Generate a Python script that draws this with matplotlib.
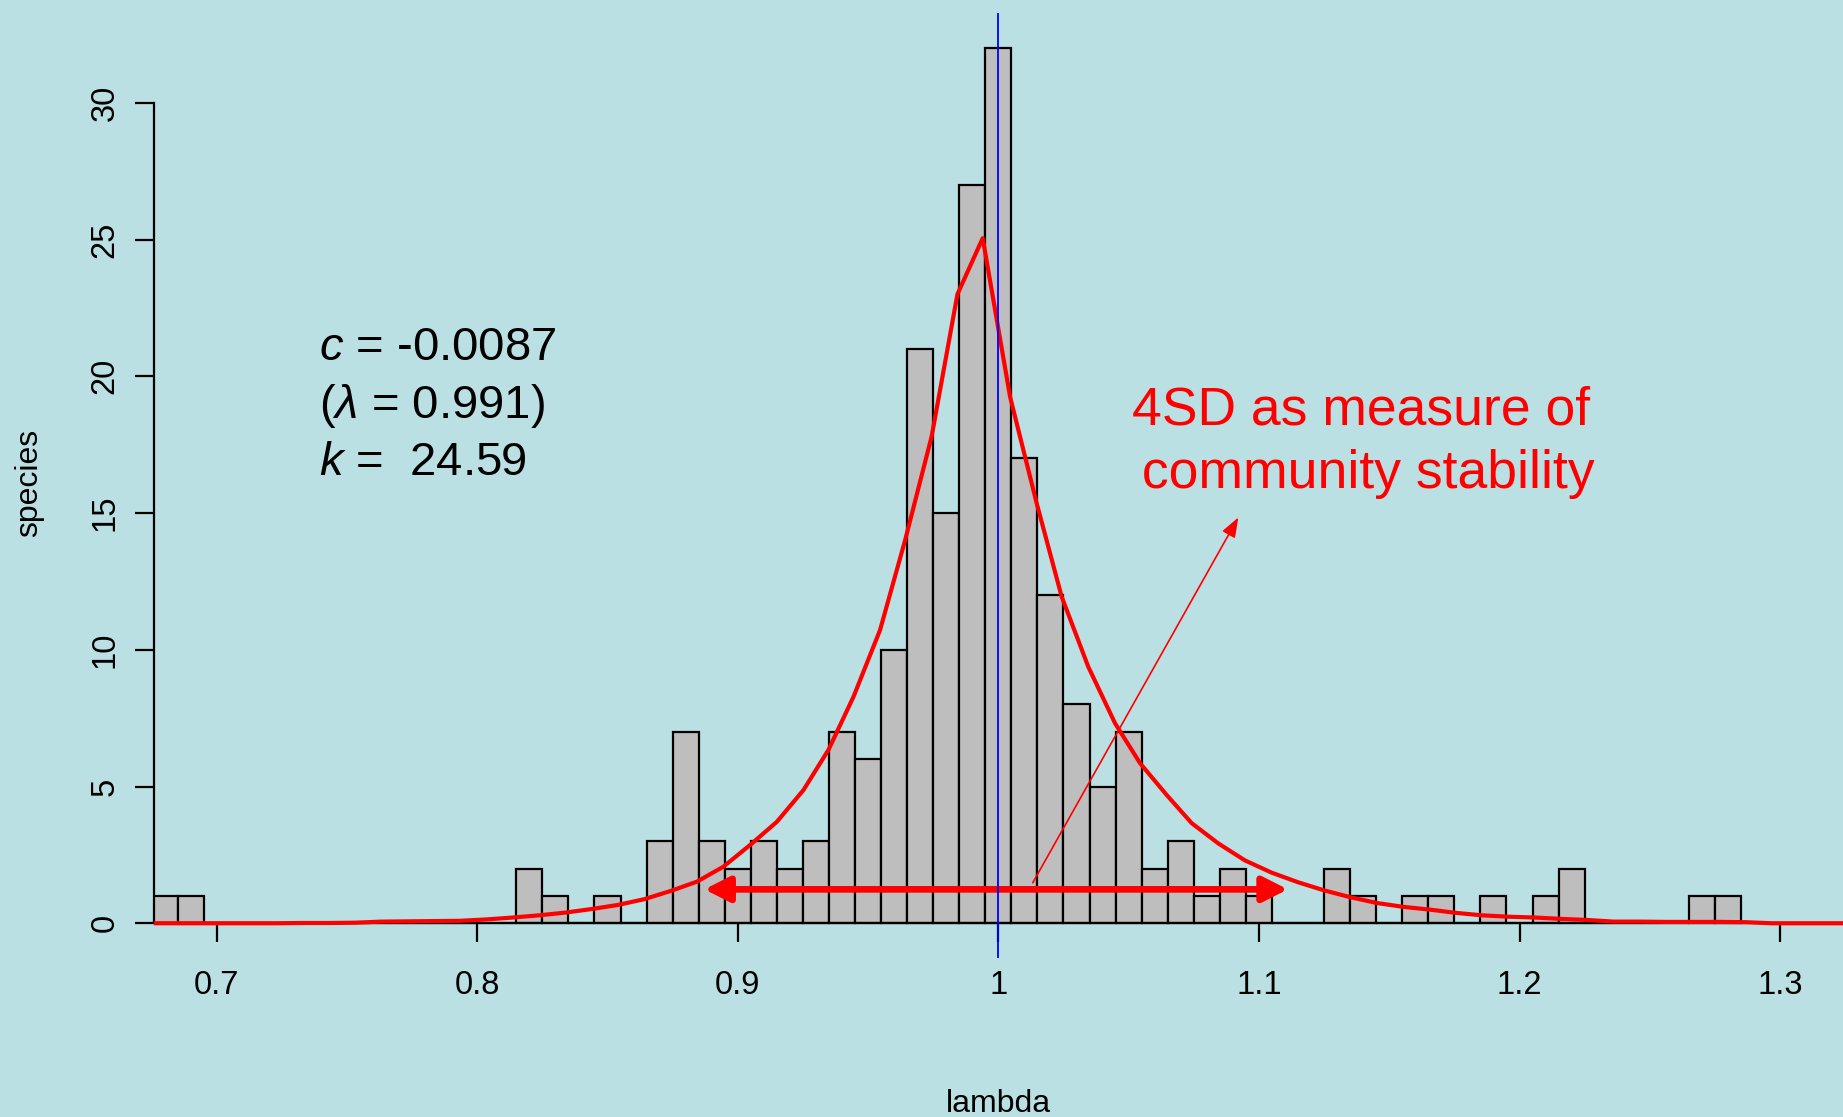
import numpy as np
import matplotlib
matplotlib.use("Agg")
import matplotlib.pyplot as plt

plt.rcParams["font.family"] = ["Liberation Sans", "DejaVu Sans"]
plt.rcParams["mathtext.fontset"] = "custom"
plt.rcParams["mathtext.rm"] = "Liberation Sans"
plt.rcParams["mathtext.it"] = "Liberation Sans:italic"

# histogram of lambda, bins 0.01 wide starting at 0.675
bin_start = 0.675
bin_width = 0.01
counts = [
    1, 1, 0, 0, 0, 0, 0, 0, 0, 0, 0, 0, 0, 0,          # 0.68 - 0.81
    2, 1, 0, 1, 0, 3, 7, 3, 2, 3, 2, 3, 7, 6, 10,     # 0.82 - 0.96
    21, 15, 27, 32,                                   # 0.97 - 1.00
    17, 12, 8, 5, 7, 2, 3, 1, 2, 1, 0, 0, 2, 1,       # 1.01 - 1.14
    0, 1, 1, 0, 1, 0, 1, 2, 0, 0, 0, 0, 1, 1,         # 1.15 - 1.28
]

# fitted curve
curve_x = [
    0.6722, 0.6823, 0.6924, 0.7025, 0.7126, 0.7227, 0.7328, 0.7429, 0.7530,
    0.7631, 0.7732, 0.7833, 0.7934, 0.8035, 0.8136, 0.8237, 0.8338, 0.8439,
    0.8540, 0.8641, 0.8742, 0.8843, 0.8945, 0.9047, 0.9150, 0.9252, 0.9348,
    0.9444, 0.9546, 0.9642, 0.9744, 0.9843, 0.9940, 1.0045, 1.0147, 1.0243,
    1.0345, 1.0448, 1.0544, 1.0646, 1.0742, 1.0844, 1.0946, 1.1049, 1.1150,
    1.1251, 1.1352, 1.1453, 1.1554, 1.1655, 1.1756, 1.1857, 1.1958, 1.2059,
    1.2160, 1.2261, 1.2362, 1.2463, 1.2564, 1.2665, 1.2766, 1.2867, 1.2968,
    1.3069, 1.3170, 1.3271,
]
curve_y = [
    0.0, 0.0, 0.0, 0.0, 0.0, 0.0, 0.01, 0.01, 0.02,
    0.06, 0.07, 0.08, 0.09, 0.14, 0.21, 0.29, 0.39, 0.52,
    0.67, 0.88, 1.18, 1.52, 2.07, 2.86, 3.71, 4.87, 6.34,
    8.28, 10.72, 14.0, 17.8, 23.0, 25.05, 19.25, 15.36, 11.94,
    9.38, 7.31, 5.85, 4.69, 3.66, 2.92, 2.3, 1.85, 1.5,
    1.2, 0.95, 0.74, 0.6, 0.5, 0.38, 0.29, 0.24, 0.21,
    0.16, 0.12, 0.06, 0.06, 0.05, 0.05, 0.05, 0.04, 0.0,
    0.0, 0.0, 0.0,
]

x_ticks = [0.7, 0.8, 0.9, 1.0, 1.1, 1.2, 1.3]
x_tick_labels = ["0.7", "0.8", "0.9", "1", "1.1", "1.2", "1.3"]
y_ticks = [0, 5, 10, 15, 20, 25, 30]

# annotations
sd_arrow = ((0.8872, 1.24), (1.1111, 1.24))
note_arrow = ((1.0132, 1.48), (1.0921, 14.84))
stats_lines = [r"$c$ = -0.0087", r"($\lambda$ = 0.991)", r"$k$ =  24.59"]
stats_y = [20.59, 18.47, 16.39]

bg = "#BAE0E3"

fig = plt.figure(figsize=(18.43, 11.17), dpi=100)
fig.patch.set_facecolor(bg)
ax = fig.add_axes([0.0836, 0.1421, 0.9162, 0.8462])
ax.set_facecolor(bg)

centers = bin_start + bin_width / 2 + bin_width * np.arange(len(counts))
ax.bar(centers, counts, width=bin_width, color="#BEBEBE",
       edgecolor="black", linewidth=1.6, zorder=2)

ax.plot(curve_x, curve_y, color="red", linewidth=3.0, zorder=3)

# 4SD double arrow
ax.annotate("", xy=sd_arrow[0], xytext=sd_arrow[1],
            arrowprops=dict(arrowstyle="<|-|>,head_length=0.75,head_width=0.38",
                            color="red", lw=4.8, shrinkA=0, shrinkB=0,
                            mutation_scale=20),
            zorder=4)
# thin pointer arrow
ax.annotate("", xy=note_arrow[1], xytext=note_arrow[0],
            arrowprops=dict(arrowstyle="-|>,head_length=0.6,head_width=0.22",
                            color="red", lw=1.2, shrinkA=0, shrinkB=0,
                            mutation_scale=20),
            zorder=4)

ax.axvline(1.0, color="blue", linewidth=1.3, zorder=5)

# text
for s, yv in zip(stats_lines, stats_y):
    ax.text(0.7393, yv, s, fontsize=34, ha="left", va="baseline",
            color="black")

ax.text(1.1392, 18.23, "4SD as measure of", fontsize=38.5, color="red",
        ha="center", va="baseline")
ax.text(1.1392, 15.91, " community stability", fontsize=38.5, color="red",
        ha="center", va="baseline")

ax.set_xlim(0.676, 1.324)
ax.set_ylim(-1.28, 33.28)

ax.spines["top"].set_visible(False)
ax.spines["right"].set_visible(False)
ax.spines["bottom"].set_position(("data", 0))
ax.spines["bottom"].set_linewidth(1.6)
ax.spines["bottom"].set_zorder(2.5)
ax.spines["left"].set_bounds(0, 30)
ax.spines["left"].set_linewidth(1.6)

ax.set_xticks(x_ticks)
ax.set_xticklabels(x_tick_labels)
ax.set_yticks(y_ticks)
ax.tick_params(axis="x", length=14, width=1.6, pad=20, labelsize=23.5)
ax.tick_params(axis="y", length=14, width=1.6, pad=10, labelsize=23.5,
               labelrotation=90)
for lab in ax.get_yticklabels():
    lab.set_va("center")

fig.text(998 / 1843, 1 - 1112 / 1117, "lambda", fontsize=23,
         ha="center", va="baseline")
fig.text(37 / 1843, 1 - 483 / 1117, "species", fontsize=23, rotation=90,
         rotation_mode="anchor", ha="center", va="baseline")

fig.savefig("out.png", dpi=100, facecolor=bg)
